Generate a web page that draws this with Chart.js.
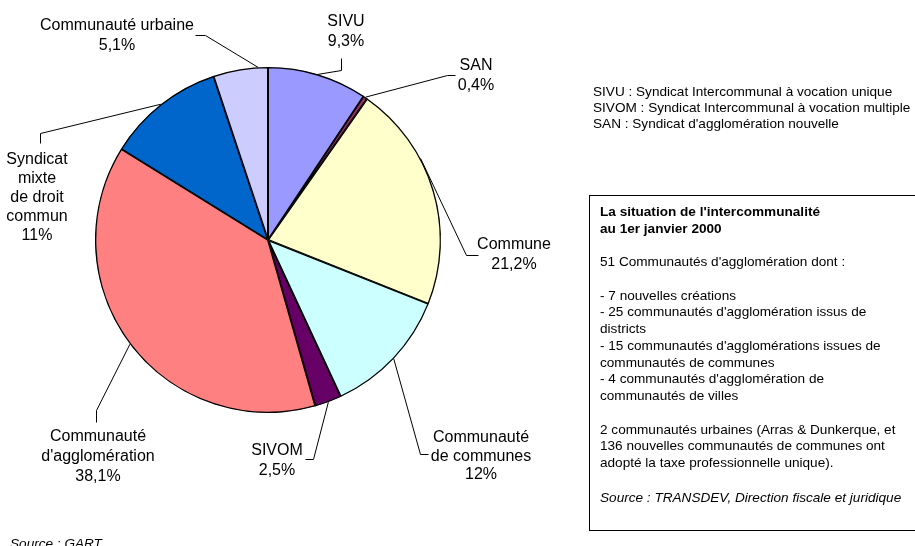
<!DOCTYPE html>
<html>
<head>
<meta charset="utf-8">
<script src="https://cdn.jsdelivr.net/npm/chart.js@4.4.0/dist/chart.umd.min.js"></script>
<style>
  html, body { margin: 0; padding: 0; background: #fff; }
  #wrap { position: relative; width: 915px; height: 546px; }
</style>
</head>
<body>
<div id="wrap"><canvas id="pieChart" width="915" height="546"></canvas></div>
<script>
// Data, clockwise from 12 o'clock
const categories = [
    'SIVU',
    'SAN',
    'Commune',
    'Communauté\nde communes',
    'SIVOM',
    'Communauté\nd\'agglomération',
    'Syndicat\nmixte\nde droit\ncommun',
    'Communauté urbaine'
];
const shares = [9.3, 0.4, 21.2, 12, 2.5, 38.1, 11, 5.1];
const sliceColors = ['#9999FF', '#993366', '#FFFFCC', '#CCFFFF', '#660066', '#FF8080', '#0066CC', '#CCCCFF'];

const glossary = [
    'SIVU : Syndicat Intercommunal à vocation unique',
    'SIVOM : Syndicat Intercommunal à vocation multiple',
    'SAN : Syndicat d\'agglomération nouvelle'
];
const boxTitle = ['La situation de l\'intercommunalité', 'au 1er janvier 2000'];
const boxLines = [
    '51 Communautés d\'agglomération dont :',
    '',
    '- 7 nouvelles créations',
    '- 25 communautés d\'agglomération issus de',
    'districts',
    '- 15 communautés d\'agglomérations issues de',
    'communautés de communes',
    '- 4 communautés d\'agglomération de',
    'communautés de villes',
    '',
    '2 communautés urbaines (Arras & Dunkerque, et',
    '136 nouvelles communautés de communes ont',
    'adopté la taxe professionnelle unique).',
    ''
];
const boxSource = 'Source : TRANSDEV, Direction fiscale et juridique';
const chartSource = 'Source : GART';

// Label placement (leader elbows and text centres)
const labelLayout = [
    { at: 0.5, path: [[341, 70], [341, 58]], x: 346, y: 22 },
    { at: 0.5, path: [[447, 75], [455, 75]], x: 476, y: 66 },
    { at: 0.35, path: [[466, 255], [478, 255]], x: 514, y: 245 },
    { at: 0.5, path: [[420, 454], [428, 454]], x: 481, y: 438, lh: 18.5 },
    { at: 0.5, path: [[313, 459], [305, 459]], x: 277, y: 451 },
    { at: 0.5, path: [[96, 410], [96, 422]], x: 98, y: 437 },
    { at: 0.5, path: [[40, 133], [40, 143]], x: 37, y: 160, lh: 18.8 },
    { at: 0.82, path: [[205, 35], [195, 35]], x: 117, y: 26 }
];

const smallFont = '13.6px "Liberation Sans", Arial, sans-serif';

function fmtPct(v) {
    return String(v).replace('.', ',') + '%';
}

const annotations = {
    id: 'annotations',
    afterDatasetsDraw(chart) {
        const ctx = chart.ctx;
        const arcs = chart.getDatasetMeta(0).data;
        ctx.save();

        // leader lines + slice labels
        ctx.strokeStyle = '#000';
        ctx.lineWidth = 1;
        ctx.fillStyle = '#000';
        ctx.font = '16px "Liberation Sans", Arial, sans-serif';
        ctx.textAlign = 'center';
        ctx.textBaseline = 'middle';
        arcs.forEach(function(arc, i) {
            const L = labelLayout[i];
            const a = arc.startAngle + (arc.endAngle - arc.startAngle) * L.at;
            const sx = arc.x + Math.cos(a) * arc.outerRadius;
            const sy = arc.y + Math.sin(a) * arc.outerRadius;
            ctx.beginPath();
            ctx.moveTo(sx, sy);
            L.path.forEach(function(p) { ctx.lineTo(p[0] + 0.5, p[1] + 0.5); });
            ctx.stroke();

            const lines = categories[i].split('\n').concat([fmtPct(shares[i])]);
            const lh = L.lh || 20;
            lines.forEach(function(t, k) {
                ctx.fillText(t, L.x, L.y + k * lh);
            });
        });

        // glossary
        ctx.textAlign = 'left';
        ctx.font = smallFont;
        glossary.forEach(function(t, k) {
            ctx.fillText(t, 593, 92 + k * 16);
        });

        // info box
        ctx.strokeStyle = '#000';
        ctx.strokeRect(589.5, 195.5, 330, 335);
        const lh = 16.75;
        let y = 212;
        ctx.font = 'bold ' + smallFont;
        boxTitle.forEach(function(t) { ctx.fillText(t, 600, y); y += lh; });
        y += lh;
        ctx.font = smallFont;
        boxLines.forEach(function(t) { if (t) ctx.fillText(t, 600, y); y += lh; });
        ctx.font = 'italic ' + smallFont;
        ctx.fillText(boxSource, 600, y + 1);

        ctx.fillText(chartSource, 10, 544);
        ctx.restore();
    }
};

new Chart(document.getElementById('pieChart'), {
    type: 'pie',
    data: {
        labels: categories,
        datasets: [{
            data: shares,
            backgroundColor: sliceColors,
            borderColor: '#000',
            borderWidth: 1,
            borderAlign: 'inner',
            hoverOffset: 0
        }]
    },
    options: {
        responsive: false,
        animation: false,
        events: [],
        layout: { padding: { left: 95, top: 67, right: 474, bottom: 133 } },
        plugins: {
            legend: { display: false },
            tooltip: { enabled: false }
        }
    },
    plugins: [annotations]
});
</script>
</body>
</html>
